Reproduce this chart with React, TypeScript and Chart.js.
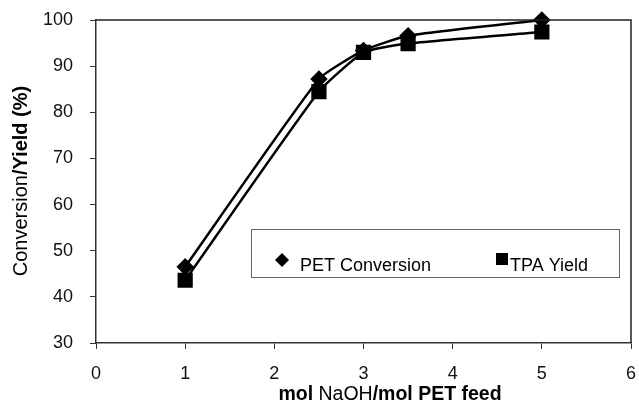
import React, { useEffect, useRef } from "react";
import { Chart, registerables } from "chart.js";

Chart.register(...registerables);

const xValues = [1, 2.5, 3, 3.5, 5];
const petConversion = [46.5, 87.2, 93.4, 96.6, 100];
const tpaYield = [43.6, 84.5, 93.0, 94.9, 97.4];
const seriesNames = ["PET Conversion", "TPA Yield"];
const xTicks = [0, 1, 2, 3, 4, 5, 6];
const yTicks = [30, 40, 50, 60, 70, 80, 90, 100];

const FONT = "'Liberation Sans', Arial, sans-serif";

const framePlugin = {
  id: "frame",
  afterDraw(chart: any) {
    const { ctx, chartArea } = chart;
    const { left, right, top, bottom } = chartArea;
    ctx.save();
    ctx.strokeStyle = "#222";
    ctx.lineWidth = 1.5;
    ctx.beginPath();
    ctx.moveTo(left, top);
    ctx.lineTo(right, top);
    ctx.lineTo(right, bottom);
    ctx.stroke();

    // legend box
    const lx = 251, ly = 229, lw = 368, lh = 48;
    ctx.fillStyle = "#fff";
    ctx.fillRect(lx, ly, lw, lh);
    ctx.strokeStyle = "#666";
    ctx.lineWidth = 1;
    ctx.strokeRect(lx + 0.5, ly + 0.5, lw, lh);
    ctx.fillStyle = "#000";
    const dx = 282, dy = 260, dr = 7;
    ctx.beginPath();
    ctx.moveTo(dx, dy - dr);
    ctx.lineTo(dx + dr, dy);
    ctx.lineTo(dx, dy + dr);
    ctx.lineTo(dx - dr, dy);
    ctx.closePath();
    ctx.fill();
    ctx.fillRect(496, 253, 12, 12);
    ctx.font = `18px ${FONT}`;
    ctx.textBaseline = "alphabetic";
    ctx.textAlign = "left";
    ctx.fillText(seriesNames[0], 300, 271);
    ctx.fillText(seriesNames[1], 510, 271);

    const xParts: [string, boolean][] = [["mol ", true], ["NaOH", false], ["/mol PET feed", true]];
    const xSize = 19.5;
    let total = 0;
    for (const [t, b] of xParts) {
      ctx.font = `${b ? "bold " : ""}${xSize}px ${FONT}`;
      total += ctx.measureText(t).width;
    }
    let cx = 390 - total / 2;
    for (const [t, b] of xParts) {
      ctx.font = `${b ? "bold " : ""}${xSize}px ${FONT}`;
      ctx.fillText(t, cx, 400);
      cx += ctx.measureText(t).width;
    }

    const yParts: [string, boolean][] = [["Conversion", false], ["/Yield (%)", true]];
    const ySize = 20;
    total = 0;
    for (const [t, b] of yParts) {
      ctx.font = `${b ? "bold " : ""}${ySize}px ${FONT}`;
      total += ctx.measureText(t).width;
    }
    ctx.translate(27, 181);
    ctx.rotate(-Math.PI / 2);
    let cy = -total / 2;
    for (const [t, b] of yParts) {
      ctx.font = `${b ? "bold " : ""}${ySize}px ${FONT}`;
      ctx.fillText(t, cy, 0);
      cy += ctx.measureText(t).width;
    }
    ctx.restore();
  },
};

export default function App() {
  const ref = useRef<HTMLCanvasElement>(null);
  useEffect(() => {
    document.body.style.margin = "0";
    const canvas = ref.current!;
    const chart = new Chart(canvas, {
      type: "scatter",
      data: {
        datasets: [
          {
            label: seriesNames[0],
            data: xValues.map((x, i) => ({ x, y: petConversion[i] })),
            showLine: true,
            borderColor: "#000",
            backgroundColor: "#000",
            borderWidth: 2.5,
            pointStyle: "rectRot",
            pointRadius: 7,
            tension: 0.15,
            clip: false,
          },
          {
            label: seriesNames[1],
            data: xValues.map((x, i) => ({ x, y: tpaYield[i] })),
            showLine: true,
            borderColor: "#000",
            backgroundColor: "#000",
            borderWidth: 2.5,
            pointStyle: "rect",
            pointRadius: 9,
            tension: 0.15,
            clip: false,
          },
        ],
      },
      options: {
        responsive: false,
        animation: false,
        layout: { autoPadding: false, padding: { left: 0, right: 8, top: 20, bottom: 0 } },
        plugins: { legend: { display: false }, tooltip: { enabled: false } },
        scales: {
          x: {
            type: "linear",
            min: 0,
            max: 6,
            afterBuildTicks: (s: any) => {
              s.ticks = xTicks.map((v) => ({ value: v }));
            },
            afterFit: (s: any) => {
              s.height = 61;
              s.paddingLeft = 0;
              s.paddingRight = 0;
            },
            border: { color: "#333", width: 1.5 },
            grid: { drawOnChartArea: false, drawTicks: true, tickLength: 6, color: "#333" },
            ticks: { color: "#111", font: { family: FONT, size: 18 }, padding: 14, maxRotation: 0 },
          },
          y: {
            type: "linear",
            min: 30,
            max: 100,
            afterBuildTicks: (s: any) => {
              s.ticks = yTicks.map((v) => ({ value: v }));
            },
            afterFit: (s: any) => {
              s.width = 96;
              s.paddingTop = 0;
              s.paddingBottom = 0;
            },
            border: { color: "#333", width: 1.5 },
            grid: { drawOnChartArea: false, drawTicks: true, tickLength: 6, color: "#333" },
            ticks: { color: "#111", font: { family: FONT, size: 18 }, padding: 17 },
          },
        },
      },
      plugins: [framePlugin],
    });
    return () => chart.destroy();
  }, []);
  return <canvas ref={ref} width={639} height={404} style={{ display: "block" }} />;
}
